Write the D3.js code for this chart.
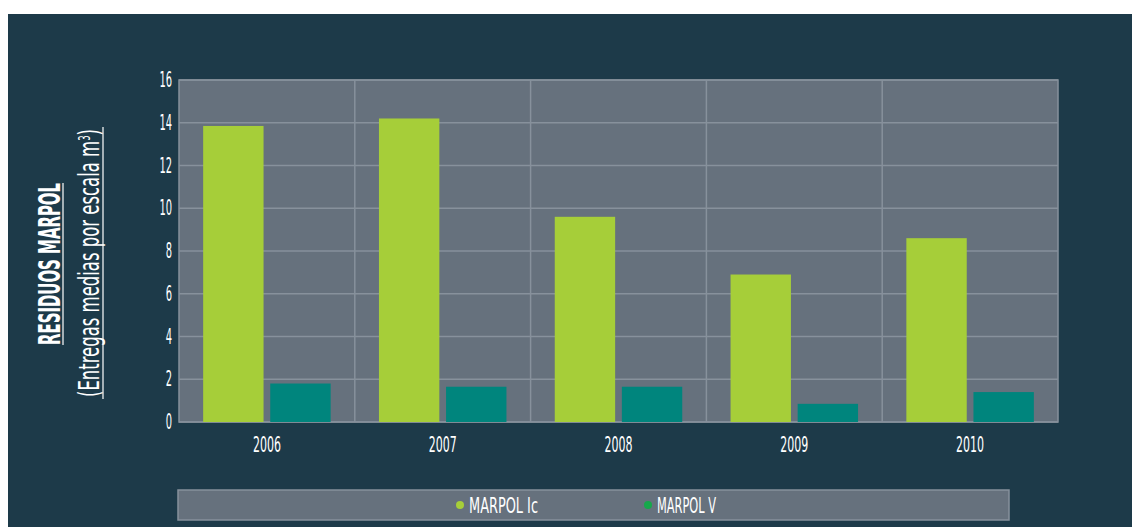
<!DOCTYPE html>
<meta charset="utf-8">
<script src="https://d3js.org/d3.v7.min.js"></script>
<style>
  body { margin: 0; background: #fff; }
  text { font-family: "Liberation Sans Narrow", "DejaVu Sans Condensed", sans-serif; fill: #fff; }
</style>
<div id="chart"></div>
<script>
// data
const years = ["2006", "2007", "2008", "2009", "2010"];
const series = ["MARPOL Ic", "MARPOL V"];
const marpolIc = [13.85, 14.2, 9.6, 6.9, 8.6];
const marpolV = [1.8, 1.65, 1.65, 0.85, 1.4];
const yTicks = [0, 2, 4, 6, 8, 10, 12, 14, 16];

const W = 1132, H = 527;
const plot = {left: 179, right: 1058, top: 80, bottom: 422};
const barColor = {"MARPOL Ic": "#a6ce39", "MARPOL V": "#00857d"};
const dotColor = {"MARPOL Ic": "#a6ce39", "MARPOL V": "#16a84b"};
const gridColor = "#87919c";

const svg = d3.select("#chart").append("svg")
  .attr("width", W).attr("height", H);

// dark panel (white strip on top and left)
svg.append("rect").attr("x", 8).attr("y", 14)
  .attr("width", W - 8).attr("height", H - 14).attr("fill", "#1d3a49");

const x = d3.scaleBand().domain(years).range([plot.left, plot.right]);
const x1 = d3.scaleBand().domain(series).range([0, x.bandwidth()])
  .paddingInner(0.1).paddingOuter(0.36);
const y = d3.scaleLinear().domain([0, 16]).range([plot.bottom, plot.top]);

// plot background
svg.append("rect")
  .attr("x", plot.left).attr("y", plot.top)
  .attr("width", plot.right - plot.left).attr("height", plot.bottom - plot.top)
  .attr("fill", "#66717d");

// grid
svg.append("g").selectAll("line").data(yTicks).join("line")
  .attr("x1", plot.left).attr("x2", plot.right)
  .attr("y1", d => y(d)).attr("y2", d => y(d))
  .attr("stroke", gridColor).attr("stroke-width", 1.5);
svg.append("g").selectAll("line").data(years.slice(1)).join("line")
  .attr("x1", d => x(d)).attr("x2", d => x(d))
  .attr("y1", plot.top).attr("y2", plot.bottom)
  .attr("stroke", gridColor).attr("stroke-width", 1.5);
svg.append("rect")
  .attr("x", plot.left).attr("y", plot.top)
  .attr("width", plot.right - plot.left).attr("height", plot.bottom - plot.top)
  .attr("fill", "none").attr("stroke", gridColor).attr("stroke-width", 1.5);

// bars
const rows = years.map((yr, i) => ({year: yr, values: [
  {key: "MARPOL Ic", value: marpolIc[i]},
  {key: "MARPOL V", value: marpolV[i]}
]}));

svg.append("g").selectAll("g").data(rows).join("g")
  .attr("transform", d => `translate(${x(d.year)},0)`)
  .selectAll("rect").data(d => d.values).join("rect")
    .attr("x", d => x1(d.key))
    .attr("width", x1.bandwidth())
    .attr("y", d => y(d.value))
    .attr("height", d => y(0) - y(d.value))
    .attr("fill", d => barColor[d.key]);

// axes
const yAxis = svg.append("g")
  .attr("transform", `translate(${plot.left},0)`)
  .call(d3.axisLeft(y).tickValues(yTicks).tickSize(0).tickPadding(7));
yAxis.select(".domain").remove();
yAxis.selectAll("text")
  .attr("font-size", 21).attr("fill", "#fff")
  .attr("textLength", d => String(d).length * 6.3)
  .attr("lengthAdjust", "spacingAndGlyphs");

const xAxis = svg.append("g")
  .attr("transform", `translate(0,${plot.bottom})`)
  .call(d3.axisBottom(x).tickSize(0).tickPadding(15));
xAxis.select(".domain").remove();
xAxis.selectAll("text")
  .attr("font-size", 21).attr("fill", "#fff")
  .attr("textLength", 28)
  .attr("lengthAdjust", "spacingAndGlyphs");

// y title
const title = svg.append("g").attr("transform", "translate(60,264) rotate(-90)");
title.append("text")
  .attr("text-anchor", "middle")
  .attr("font-size", 30).attr("font-weight", "bold")
  .attr("textLength", 162).attr("lengthAdjust", "spacingAndGlyphs")
  .text("RESIDUOS MARPOL");
title.append("line")
  .attr("x1", -81).attr("x2", 81).attr("y1", 3).attr("y2", 3)
  .attr("stroke", "#fff").attr("stroke-width", 1.2);

const sub = svg.append("g").attr("transform", "translate(99,263) rotate(-90)");
const subText = sub.append("text")
  .attr("text-anchor", "middle")
  .attr("font-size", 29).attr("font-weight", 300)
  .attr("textLength", 268).attr("lengthAdjust", "spacingAndGlyphs");
subText.append("tspan").text("(Entregas medias por escala m");
subText.append("tspan").attr("font-size", 15).attr("baseline-shift", "super").text("3");
subText.append("tspan").text(")");
sub.append("line")
  .attr("x1", -136).attr("x2", 136).attr("y1", 4).attr("y2", 4)
  .attr("stroke", "#fff").attr("stroke-width", 1.2);

// legend
svg.append("rect")
  .attr("x", 178).attr("y", 490).attr("width", 831).attr("height", 30)
  .attr("fill", "#66717d").attr("stroke", gridColor).attr("stroke-width", 1.5);
const legendX = {"MARPOL Ic": 460, "MARPOL V": 648};
const legendLen = {"MARPOL Ic": 69, "MARPOL V": 59};
const lg = svg.append("g").selectAll("g").data(series).join("g")
  .attr("transform", d => `translate(${legendX[d]},505)`);
lg.append("circle").attr("r", 4).attr("fill", d => dotColor[d]);
lg.append("text")
  .attr("x", 9).attr("y", 7.5)
  .attr("font-size", 21)
  .attr("textLength", d => legendLen[d]).attr("lengthAdjust", "spacingAndGlyphs")
  .text(d => d);
</script>
